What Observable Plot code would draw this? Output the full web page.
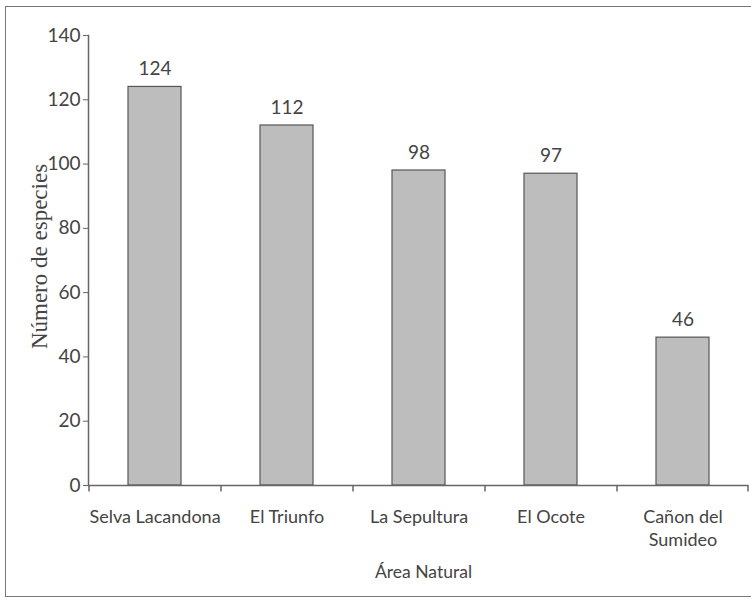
<!DOCTYPE html>
<html>
<head>
<meta charset="utf-8">
<script src="https://cdn.jsdelivr.net/npm/d3@7"></script>
<script src="https://cdn.jsdelivr.net/npm/@observablehq/plot@0.6"></script>
<style>
  body { margin: 0; background: #fff; }
  #wrap { position: relative; width: 751px; height: 600px; overflow: hidden; }
  #border { position: absolute; left: 5px; top: 6px; width: 760px; height: 591px; border: 1.5px solid #777; box-sizing: border-box; pointer-events: none; }
</style>
</head>
<body>
<div id="wrap"><div id="border"></div></div>
<script>
const areas = ["Selva Lacandona", "El Triunfo", "La Sepultura", "El Ocote", "Cañon del\nSumideo"];
const species = [124, 112, 98, 97, 46];
const yTicks = [0, 20, 40, 60, 80, 100, 120, 140];
const yLabel = "Número de especies";
const xLabel = "Área Natural";

const data = areas.map((a, i) => ({area: a, n: species[i]}));

const W = 751, H = 600, mL = 88, mR = 3, mT = 35, mB = 115;
const halfBand = (W - mL - mR) / areas.length / 2;
const axisColor = "#666";
const textColor = "#444";

const chart = Plot.plot({
  width: W, height: H,
  marginLeft: mL, marginRight: mR, marginTop: mT, marginBottom: mB,
  style: {fontFamily: "Lato, 'Open Sans', sans-serif", fontSize: "18px", color: textColor, background: "transparent"},
  x: {domain: areas, paddingInner: 0.6, paddingOuter: 0.3, label: null},
  y: {domain: [0, 140], label: null},
  marks: [
    Plot.barY(data, {x: "area", y: "n", fill: "#bdbdbd", stroke: "#555", strokeWidth: 1.2}),
    Plot.text(data, {x: "area", y: "n", text: d => String(d.n), dy: -18, fontSize: 19, fill: textColor}),
    Plot.ruleY([0], {stroke: axisColor, strokeWidth: 1.5}),
    Plot.frame({anchor: "left", stroke: axisColor, strokeWidth: 1.5}),
    Plot.axisY({ticks: yTicks, tickSize: 5, tickPadding: 3, fontSize: 19, stroke: axisColor, fill: textColor, label: null}),
    Plot.axisX({tickSize: 0, tickPadding: 20, fontSize: 18, fill: textColor, label: null, lineHeight: 1.33}),
    Plot.ruleX(areas, {x: d => d, dx: -halfBand, y1: 0, y2: -2, stroke: axisColor, strokeWidth: 1.5}),
    Plot.ruleX([areas[areas.length - 1]], {x: d => d, dx: halfBand - 1, y1: 0, y2: -2, stroke: axisColor, strokeWidth: 1.5}),
    Plot.text([xLabel], {frameAnchor: "bottom", text: d => d, dy: 92, dx: 5, fontSize: 17.5, fill: textColor}),
    Plot.text([yLabel], {frameAnchor: "left", textAnchor: "middle", text: d => d, rotate: -90, dx: -49, dy: -4, fontSize: 23, fill: textColor, fontFamily: "'Liberation Serif', 'DejaVu Serif', serif"})
  ]
});
document.getElementById("wrap").prepend(chart);
</script>
</body>
</html>
